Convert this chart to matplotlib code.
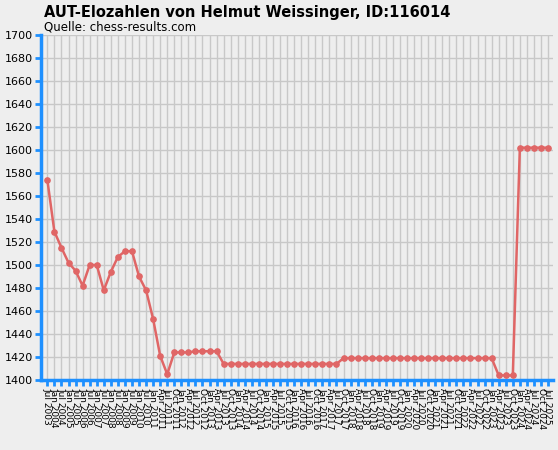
import matplotlib.pyplot as plt

labels = [
    "Jul 2003", "Jan 2004", "Jul 2004", "Jan 2005", "Jul 2005", "Jan 2006", "Jul 2006", "Jan 2007",
    "Jul 2007", "Jan 2008", "Jul 2008", "Jan 2009", "Jul 2009", "Jan 2010", "Jul 2010", "Jan 2011",
    "Apr 2011", "Jul 2011", "Oct 2011", "Jan 2012", "Apr 2012", "Jul 2012", "Oct 2012", "Jan 2013",
    "Apr 2013", "Jul 2013", "Oct 2013", "Jan 2014", "Apr 2014", "Jul 2014", "Oct 2014", "Jan 2015",
    "Apr 2015", "Jul 2015", "Oct 2015", "Jan 2016", "Apr 2016", "Jul 2016", "Oct 2016", "Jan 2017",
    "Apr 2017", "Jul 2017", "Oct 2017", "Jan 2018", "Apr 2018", "Jul 2018", "Oct 2018", "Jan 2019",
    "Apr 2019", "Jul 2019", "Oct 2019", "Jan 2020", "Apr 2020", "Jul 2020", "Oct 2020", "Jan 2021",
    "Apr 2021", "Jul 2021", "Oct 2021", "Jan 2022", "Apr 2022", "Jul 2022", "Oct 2022", "Jan 2023",
    "Apr 2023", "Jul 2023", "Oct 2023", "Jan 2024", "Apr 2024", "Jul 2024", "Oct 2024", "Jul 2025",
]
elo = [
    1574, 1529, 1515, 1502, 1495, 1482, 1500, 1500, 1478, 1494, 1507, 1512, 1512, 1490, 1478, 1453,
    1421, 1405, 1424, 1424, 1424, 1425, 1425, 1425, 1425,
    1414, 1414, 1414, 1414, 1414, 1414, 1414, 1414, 1414, 1414, 1414, 1414, 1414, 1414, 1414, 1414, 1414,
    1419, 1419, 1419, 1419, 1419, 1419, 1419, 1419, 1419, 1419, 1419, 1419, 1419, 1419, 1419, 1419,
    1419, 1419, 1419, 1419, 1419, 1419,
    1404, 1404, 1404,
    1602, 1602, 1602, 1602, 1602,
]

blue = "#1e90ff"
fig = plt.figure(figsize=(5.58, 4.5), dpi=100, facecolor="#eeeeee")
ax = fig.add_axes([41 / 558, 70 / 450, 512 / 558, 345 / 450])
ax.set_facecolor("#eeeeee")

x = list(range(len(elo)))
ax.plot(x, elo, color="#e06666", linewidth=1.8, marker="o", markersize=3.8, zorder=3)

ax.set_xlim(-0.9, len(elo) - 0.3)
ax.set_ylim(1400, 1700)
ax.set_yticks(range(1400, 1701, 20))
ax.set_xticks(x)
ax.set_xticklabels(labels, rotation=-90, fontsize=6.5)
ax.tick_params(axis="both", colors=blue, length=4, width=2, labelcolor="black", pad=2)
ax.tick_params(axis="y", labelsize=8)
ax.grid(True, color="#c8c8c8", linewidth=1)
ax.set_axisbelow(True)
for side in ["top", "right"]:
    ax.spines[side].set_visible(False)
for side in ["left", "bottom"]:
    ax.spines[side].set_color(blue)
    ax.spines[side].set_linewidth(2.5)

fig.text(44 / 558, 1 - 12 / 450, "AUT-Elozahlen von Helmut Weissinger, ID:116014",
         fontsize=10.5, fontweight="bold", va="center")
fig.text(44 / 558, 1 - 27 / 450, "Quelle: chess-results.com", fontsize=8.5, va="center")

fig.savefig("out.png", dpi=100, facecolor=fig.get_facecolor())
